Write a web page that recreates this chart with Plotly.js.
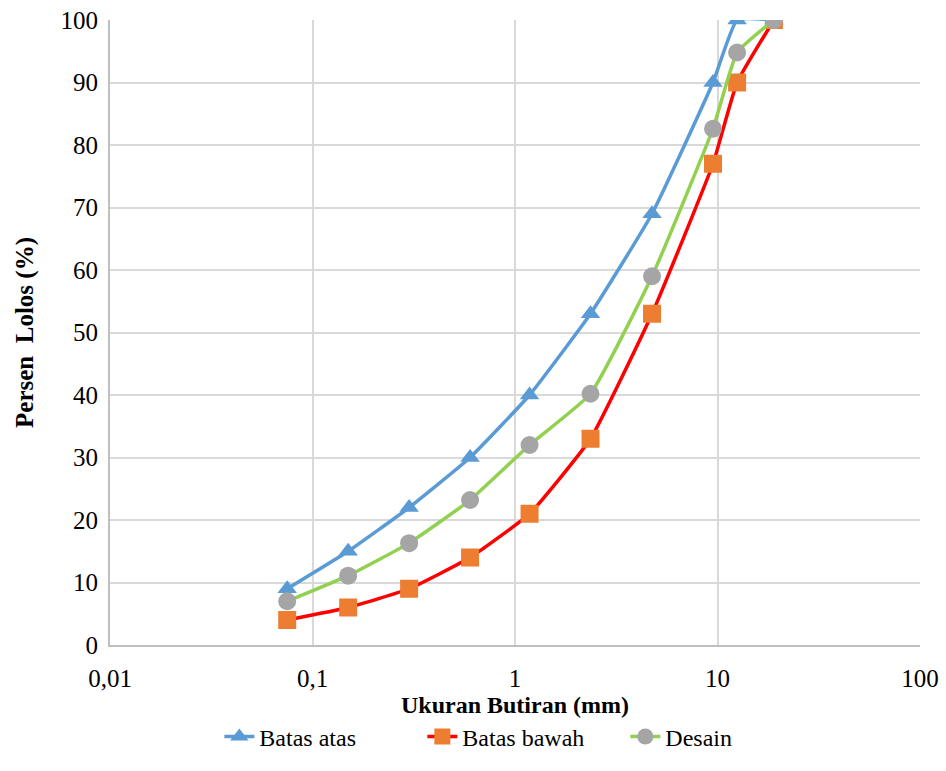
<!DOCTYPE html>
<html>
<head>
<meta charset="utf-8">
<script src="https://cdn.plot.ly/plotly-3.0.1.min.js"></script>
<style>html,body{margin:0;padding:0;background:#fff;}#chart{width:946px;height:771px;}</style>
</head>
<body>
<div id="chart"></div>
<script>
const sieveSizes = [0.075, 0.15, 0.3, 0.6, 1.18, 2.36, 4.75, 9.5, 12.5, 19];
const batasAtas = [9, 15, 22, 30, 40, 53, 69, 90, 100, 100];
const batasBawah = [4, 6, 9, 14, 21, 33, 53, 77, 90, 100];
const desain = [7, 11.1, 16.3, 23.2, 32, 40.2, 59, 82.6, 94.8, 100];
const xTickVals = [0.01, 0.1, 1, 10, 100];
const xTickText = ["0,01", "0,1", "1", "10", "100"];
const seriesNames = ["Batas atas", "Batas bawah", "Desain"];

const font = "Liberation Serif";
const traces = [
  {x: sieveSizes, y: batasAtas, name: seriesNames[0], mode: "lines+markers",
   line: {color: "#5b9bd5", width: 3.5, shape: "spline", smoothing: 0.4},
   marker: {symbol: "triangle-up", size: 17, color: "#5b9bd5"}},
  {x: sieveSizes, y: batasBawah, name: seriesNames[1], mode: "lines+markers",
   line: {color: "#ff0000", width: 3.5, shape: "spline", smoothing: 0.4},
   marker: {symbol: "square", size: 18, color: "#ed7d31"}},
  {x: sieveSizes, y: desain, name: seriesNames[2], mode: "lines+markers",
   line: {color: "#92d050", width: 3.5, shape: "spline", smoothing: 0.4},
   marker: {symbol: "circle", size: 18, color: "#a5a5a5"}}
];
const layout = {
  width: 946, height: 771,
  margin: {l: 110, r: 26, t: 20, b: 122},
  paper_bgcolor: "#fff", plot_bgcolor: "#fff",
  font: {family: font, size: 25, color: "#000"},
  showlegend: true,
  legend: {orientation: "h", x: 0.135, xanchor: "left", y: -0.147, yanchor: "middle",
           entrywidth: 158, font: {family: font, size: 24, color: "#000"}, tracegroupgap: 0},
  xaxis: {type: "log", range: [-2, 2], tickvals: xTickVals, ticktext: xTickText,
          showgrid: true, gridcolor: "#d9d9d9", gridwidth: 2,
          showline: true, linecolor: "#bfbfbf", linewidth: 2, zeroline: false,
          ticks: "outside", ticklen: 10, tickcolor: "rgba(0,0,0,0)", tickfont: {family: font, size: 25},
          title: {text: "<b>Ukuran Butiran (mm)</b>", font: {family: font, size: 24}, standoff: 4}},
  yaxis: {range: [0, 100], dtick: 10, showgrid: true, gridcolor: "#d9d9d9", gridwidth: 2,
          showline: true, linecolor: "#bfbfbf", linewidth: 2, zeroline: false,
          ticks: "outside", ticklen: 5, tickcolor: "rgba(0,0,0,0)", tickfont: {family: font, size: 25},
          title: {text: "<b>Persen  Lolos (%)</b>", font: {family: font, size: 25}, standoff: 20}}
};
Plotly.newPlot("chart", traces, layout, {displayModeBar: false, staticPlot: true});
</script>
</body>
</html>
